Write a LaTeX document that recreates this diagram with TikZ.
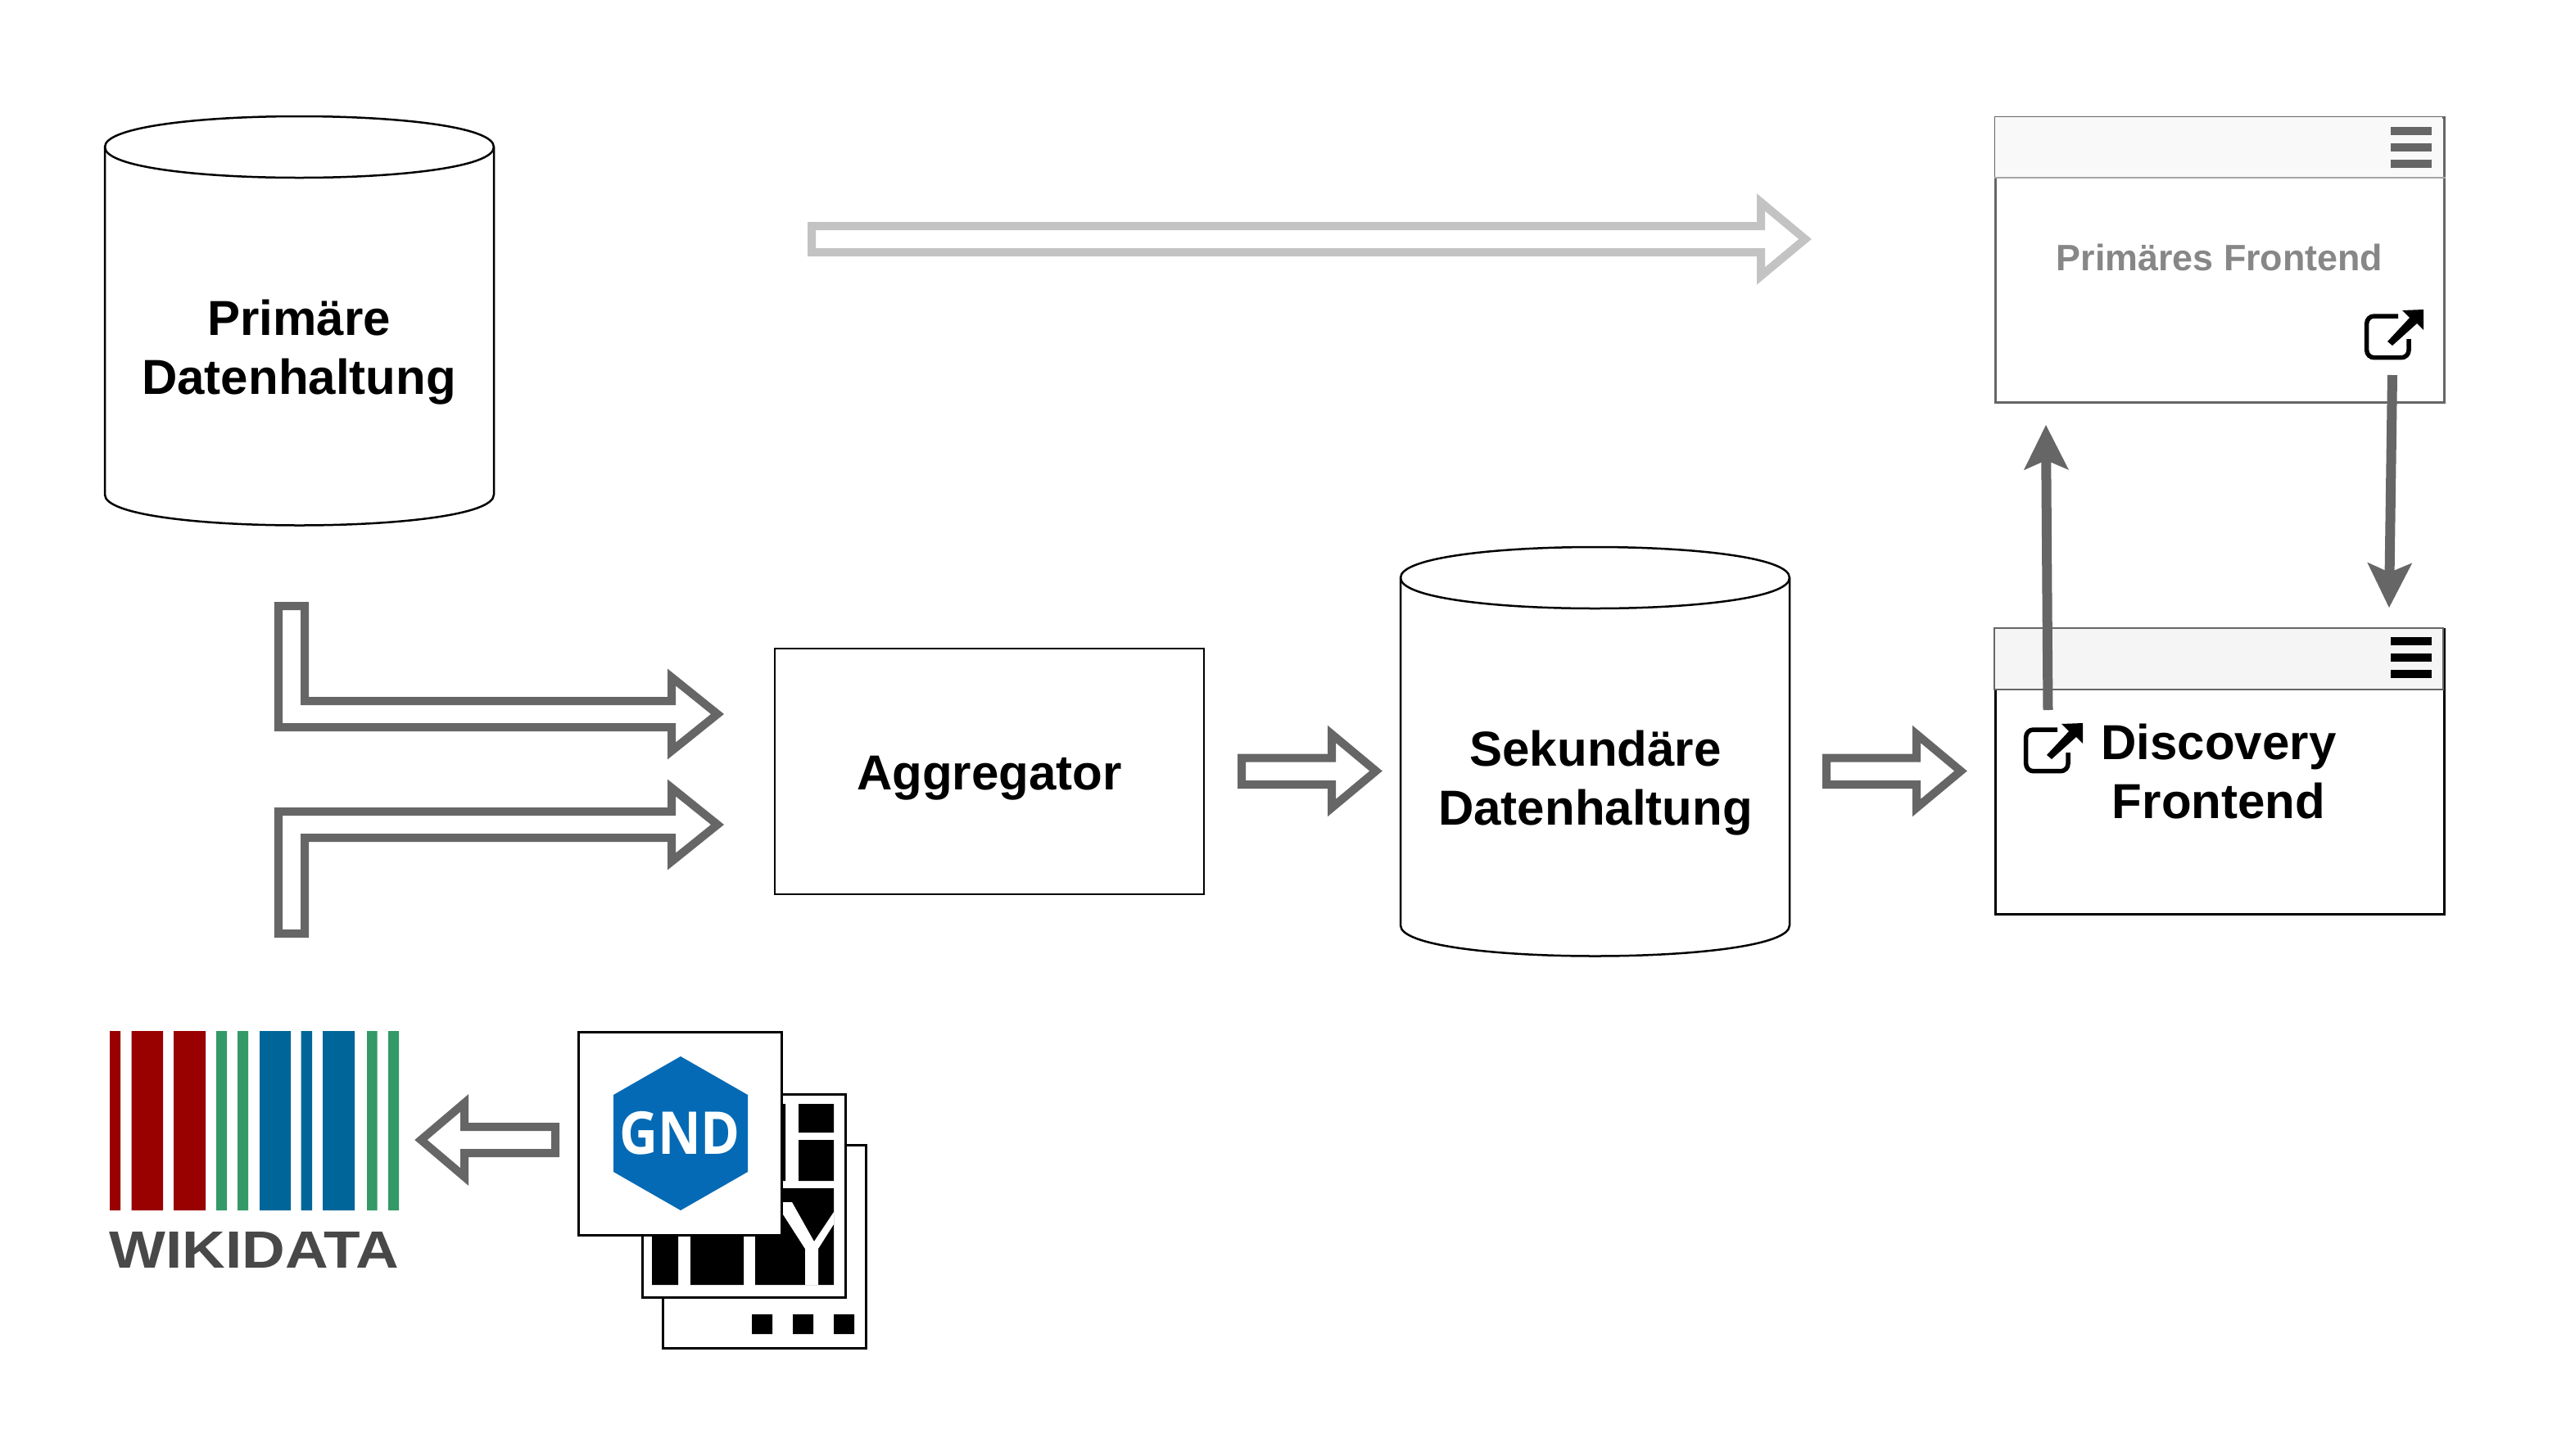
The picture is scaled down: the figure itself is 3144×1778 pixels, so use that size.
\documentclass[tikz,border=0pt]{standalone}
\usepackage{fontspec}
\setmainfont{Liberation Sans}
\newfontfamily\gndfont{Open Sans}
\usetikzlibrary{arrows.meta}
\definecolor{grayline}{HTML}{666666}
\definecolor{fadeline}{HTML}{C3C3C3}
\definecolor{wdred}{HTML}{990000}
\definecolor{wdgreen}{HTML}{339966}
\definecolor{wdblue}{HTML}{006699}
\definecolor{wdtext}{HTML}{484848}
\definecolor{gndblue}{HTML}{056AB5}
\newcommand{\cylpath}[2]{%
  \begin{scope}[shift={(#1,#2)}]
    \draw[cylline,fill=white] (0,37.5) -- (0,462)
      .. controls (0,512) and (475,512) .. (475,462) -- (475,37.5)
      .. controls (475,-12.5) and (0,-12.5) .. (0,37.5) -- cycle;
    \draw[cylline] (0,37.5) .. controls (0,87.5) and (475,87.5) .. (475,37.5);
  \end{scope}}
\newcommand{\extlink}[2]{%
  \begin{scope}[shift={(#1,#2)}]
    \draw[line width=.055cm,black,rounded corners=.09cm] (2512,891) -- (2473.7,891) -- (2473.7,941.7) -- (2525,941.7) -- (2525,919);
    \fill[black] (2517,884) -- (2543,883) -- (2543,908) -- (2535,900) -- (2505,927) -- (2499,922) -- (2526,893) -- cycle;
  \end{scope}}
\tikzset{
  x=.01cm,y=-.01cm,
  cylline/.style={line width=.025cm,black},
  bold60/.style={font=\fontsize{17.07}{20.49}\selectfont\bfseries,align=center,text=black,inner sep=0pt},
  blockarrow/.style={line width=.1cm,grayline,fill=white,line join=miter},
  fadearrow/.style={line width=.1cm,fadeline,fill=white,line join=miter},
  pagebox/.style={draw=black,line width=.025cm,fill=white,minimum width=2.48cm,minimum height=2.48cm,inner sep=0pt,anchor=north west},
  thickconn/.style={line width=.12cm,grayline,-{Stealth[length=.55cm,width=.55cm,inset=.12cm,line width=0pt]}},
  menubar/.style={inner sep=0pt,minimum width=.5cm,minimum height=.105cm,draw=none,anchor=north west},
}
\begin{document}
\begin{tikzpicture}
\useasboundingbox (0,0) rectangle (3144,1778);
\fill[white] (0,0) rectangle (3144,1778);

% data stores
\cylpath{128}{142}
\node[bold60] (primdb) at (365,430) {Primäre\\Datenhaltung};
\cylpath{1710}{668}
\node[bold60] (secdb) at (1948,956) {Sekundäre\\Datenhaltung};
\node[draw=black,line width=.025cm,fill=white,minimum width=5.24cm,minimum height=3cm,inner sep=0pt] (agg) at (1208,942) {};
\node[bold60] (agglabel) at (1208,950) {Aggregator};

% primary frontend
\node[draw=grayline,line width=.025cm,fill=white,minimum width=5.48cm,minimum height=3.48cm,anchor=north west,inner sep=0pt] (pf) at (2435,142) {};
\fill[black!2.5] (2436,143) rectangle (2982,217);
\draw[line width=.025cm,black!35] (pf.west |- 0,217) -- (pf.east |- 0,217);
\node[font=\fontsize{12.75}{15}\selectfont\bfseries,text=black!47,inner sep=0pt] (pflabel) at (2710,314) {Primäres Frontend};
\node[menubar,fill=grayline] (pfm1) at (2918,154) {};
\node[menubar,fill=grayline] (pfm2) at (2918,174) {};
\node[menubar,fill=grayline] (pfm3) at (2918,194) {};
\extlink{416}{-505}

% discovery frontend
\node[draw=black,line width=.025cm,fill=white,minimum width=5.48cm,minimum height=3.48cm,anchor=north west,inner sep=0pt] (df) at (2435,767) {};
\fill[black!4] (2436,768) rectangle (2982,842);
\draw[line width=.025cm,grayline] (2435,842) -- (2435,767) -- (2983,767) -- (2983,842) -- cycle;
\node[bold60] (dflabel) at (2709,942) {Discovery\\Frontend};
\node[menubar,fill=black] (dfm1) at (2918,777) {};
\node[menubar,fill=black] (dfm2) at (2918,797) {};
\node[menubar,fill=black] (dfm3) at (2918,817) {};
\extlink{0}{0}

% links between frontends
\coordinate (upS) at (2500.5,867);
\coordinate (upE) at (2498,519);
\coordinate (dnS) at (2921,458);
\coordinate (dnE) at (2917,742);
\draw[thickconn] (upS) -- (upE);
\draw[thickconn] (dnS) -- (dnE);

% block arrows
\draw[blockarrow] (340,740) -- (372,740) -- (372,856) -- (820,856) -- (820,827) -- (876,872) -- (820,917) -- (820,888) -- (340,888) -- cycle;
\draw[blockarrow] (340,991) -- (820,991) -- (820,962) -- (876,1007) -- (820,1052) -- (820,1023) -- (372,1023) -- (372,1140) -- (340,1140) -- cycle;
\draw[blockarrow] (1516,925.5) -- (1626,925.5) -- (1626,896.5) -- (1680,941.5) -- (1626,986.5) -- (1626,958) -- (1516,958) -- cycle;
\draw[blockarrow] (2230,925.5) -- (2340,925.5) -- (2340,896.5) -- (2394,941.5) -- (2340,986.5) -- (2340,958) -- (2230,958) -- cycle;
\draw[fadearrow] (991,276) -- (2150,276) -- (2150,247) -- (2204,292) -- (2150,337) -- (2150,308) -- (991,308) -- cycle;
\draw[blockarrow] (678,1376) -- (567,1376) -- (567,1347) -- (514,1392) -- (567,1437) -- (567,1408) -- (678,1408) -- cycle;

% wikidata logo
\fill[wdred] (134,1259) rectangle (147,1478) (160.5,1259) rectangle (199,1478) (212,1259) rectangle (251,1478);
\fill[wdgreen] (264,1259) rectangle (277,1478) (290,1259) rectangle (303,1478) (448,1259) rectangle (460.5,1478) (474,1259) rectangle (487,1478);
\fill[wdblue] (317,1259) rectangle (355,1478) (367.5,1259) rectangle (381,1478) (394,1259) rectangle (433,1478);
\node[font=\fontsize{18.2}{20}\selectfont\bfseries,text=wdtext,inner sep=0pt,xscale=1.14] (wd) at (310.5,1526) {WIKIDATA};

% stacked pages
\node[pagebox] (page3) at (808,1397) {};
\fill[black] (918,1605) rectangle (943,1629) (968,1605) rectangle (993,1629) (1018,1605) rectangle (1043,1629);
\node[pagebox] (page2) at (783,1335) {};
\fill[black] (975,1348) rectangle (1018,1383) (975,1392) rectangle (1018,1442) (955,1348) rectangle (959,1442);
\fill[black] (955,1451) rectangle (1018,1569) (922,1500) rectangle (983,1569) (843,1500) rectangle (908,1569)
  (796,1500) rectangle (828,1569);
\fill[white] (956,1468) -- (967,1468) -- (994,1516) -- (1018,1480) -- (1018,1495) -- (999,1525) -- (999,1569) -- (983,1569) -- (983,1525) -- (956,1483) -- cycle;
\node[pagebox] (page1) at (705,1259) {};
\fill[gndblue] (831,1290) -- (913,1337) -- (913,1431) -- (831,1478) -- (749,1431) -- (749,1337) -- cycle;
\node[font=\gndfont\fontsize{20.5}{22}\selectfont\bfseries,text=white,inner sep=0pt,xscale=.9] (gnd) at (830,1384) {GND};
\end{tikzpicture}
\end{document}
